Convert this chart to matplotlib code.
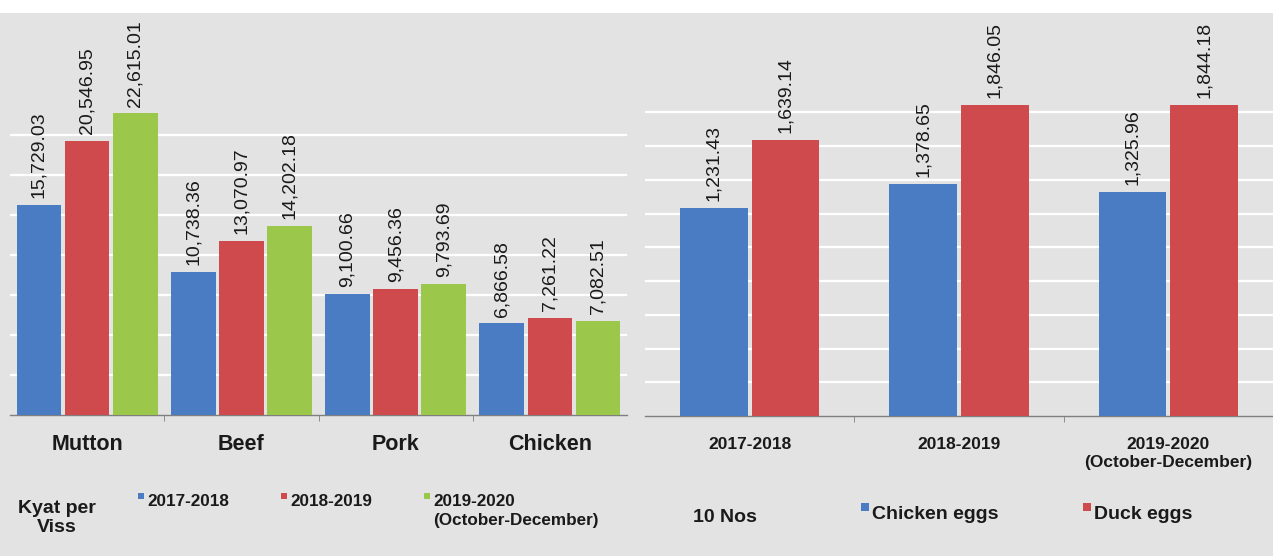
import numpy as np
import matplotlib.pyplot as plt
from matplotlib.patches import Rectangle

plt.rcParams['font.family'] = ['Liberation Sans', 'DejaVu Sans']

# meat prices, kyat per viss
meats = ['Mutton', 'Beef', 'Pork', 'Chicken']
meat_years = ['2017-2018', '2018-2019', '2019-2020\n(October-December)']
meat_2017 = [15729.03, 10738.36, 9100.66, 6866.58]
meat_2018 = [20546.95, 13070.97, 9456.36, 7261.22]
meat_2019 = [22615.01, 14202.18, 9793.69, 7082.51]

# egg prices, per 10 nos
egg_years = ['2017-2018', '2018-2019', '2019-2020\n(October-December)']
egg_types = ['Chicken eggs', 'Duck eggs']
chicken_eggs = [1231.43, 1378.65, 1325.96]
duck_eggs = [1639.14, 1846.05, 1844.18]

BLUE = '#4a7cc4'
RED = '#cf4a4c'
GREEN = '#9bc74a'
BG = '#e3e3e3'
W, H = 1273, 556

fig = plt.figure(figsize=(W / 100, H / 100), dpi=100, facecolor='white')
fig.patches.append(Rectangle((0, 0), 1, 1 - 13 / H, transform=fig.transFigure,
                             facecolor=BG, edgecolor='none', zorder=-10))


def fx(px):
    return px / W


def fy(py):
    return 1 - py / H


def style_axes(ax, n, ymax, step, gridmax):
    ax.set_facecolor('none')
    ax.set_xlim(-0.5, n - 0.5)
    ax.set_ylim(0, ymax)
    for s in ['left', 'right', 'top']:
        ax.spines[s].set_visible(False)
    ax.spines['bottom'].set_color('#7f7f7f')
    ax.spines['bottom'].set_linewidth(1.0)
    ax.set_yticks(np.arange(step, gridmax + 1, step))
    ax.yaxis.grid(True, color='white', lw=1.6)
    ax.set_axisbelow(True)
    ax.tick_params(axis='y', length=0, labelleft=False)
    ax.set_xticks(np.arange(n))
    ax.set_xticks(np.arange(0.5, n - 1, 1), minor=True)
    ax.tick_params(axis='x', which='major', length=0, pad=14)
    ax.tick_params(axis='x', which='minor', length=4, color='#7f7f7f', direction='out')


def value_labels(ax, xs, vals):
    for x, v in zip(xs, vals):
        ax.annotate(f'{v:,.2f}', (x, v), xytext=(0, 5), textcoords='offset points',
                    rotation=90, ha='center', va='bottom', fontsize=14, color='#1a1a1a')


# left panel: meat
ax1 = fig.add_axes([fx(10), fy(415), fx(617), (415 - 15) / H])
style_axes(ax1, len(meats), 30000, 3000, 21000)
x = np.arange(len(meats))
off, bw = 0.312, 0.29
for i, (vals, c) in enumerate(zip([meat_2017, meat_2018, meat_2019], [BLUE, RED, GREEN])):
    xs = x + (i - 1) * off
    ax1.bar(xs, vals, width=bw, color=c, zorder=3)
    value_labels(ax1, xs, vals)
ax1.set_xticklabels(meats, fontsize=15.5, fontweight='bold', color='#1a1a1a')

# right panel: eggs
ax2 = fig.add_axes([fx(645), fy(416), fx(628), (416 - 13) / H])
style_axes(ax2, len(egg_years), 2390, 200, 1800)
x = np.arange(len(egg_years))
off, bw = 0.171, 0.324
for i, (vals, c) in enumerate(zip([chicken_eggs, duck_eggs], [BLUE, RED])):
    xs = x + (i - 0.5) * 2 * off
    ax2.bar(xs, vals, width=bw, color=c, zorder=3)
    value_labels(ax2, xs, vals)
ax2.set_xticklabels(egg_years, fontsize=12.5, fontweight='bold', color='#1a1a1a',
                    linespacing=1.3)
ax2.tick_params(axis='x', which='major', pad=15)

# unit labels and legends
fig.text(fx(57), fy(518), 'Kyat per\nViss', ha='center', va='center', fontsize=14,
         fontweight='bold', linespacing=1.15, color='#1a1a1a')
fig.text(fx(693), fy(518), '10 Nos', ha='left', va='center', fontsize=14,
         fontweight='bold', color='#1a1a1a')


def legend_item(px, py, label, color, size, msize):
    fig.patches.append(Rectangle((fx(px - msize - 3), fy(py - 4)), fx(msize), msize / H,
                                 transform=fig.transFigure, facecolor=color,
                                 edgecolor='none'))
    fig.text(fx(px), fy(py - 9), label, ha='left', va='top', fontsize=size,
             fontweight='bold', linespacing=1.35, color='#1a1a1a')


for px, lab, c in zip([147, 290, 433], meat_years, [BLUE, RED, GREEN]):
    legend_item(px, 503, lab, c, 12.3, 6)
for px, lab, c in zip([872, 1094], egg_types, [BLUE, RED]):
    legend_item(px, 515, lab, c, 14, 8)

fig.savefig('out.png', dpi=100, facecolor=fig.get_facecolor())
